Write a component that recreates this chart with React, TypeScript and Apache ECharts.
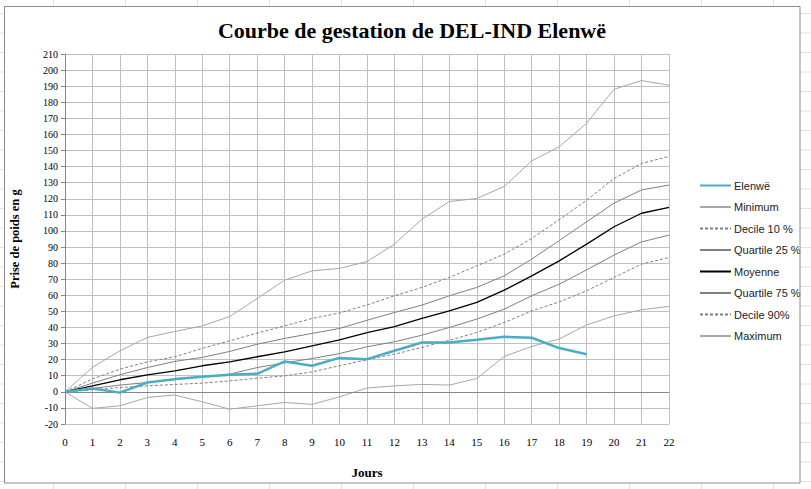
import React, { useEffect, useRef } from "react";
import * as echarts from "echarts";

const days = [0, 1, 2, 3, 4, 5, 6, 7, 8, 9, 10, 11, 12, 13, 14, 15, 16, 17, 18, 19, 20, 21, 22];
const elenwe = [0, 2, -0.5, 5.8, 7.9, 9.3, 10.6, 11.2, 18.9, 16.2, 21.1, 20.3, 25.5, 30.7, 30.7, 32.3, 34.2, 33.6, 27.2, 23.4];
const minimum = [0, -10.3, -8.7, -3.5, -2, -6.2, -10.8, -8.7, -6.6, -7.8, -3.1, 2.4, 3.7, 4.6, 4.2, 8.3, 22, 28.2, 32.8, 41.6, 47.2, 51, 53.1];
const decile10 = [0, 1.2, 2.7, 3.7, 4.6, 5.4, 6.8, 8.5, 9.9, 12.4, 16.2, 20, 23.4, 27.6, 32, 36.9, 43.1, 50.3, 55.9, 62.8, 71.1, 79.4, 83.5];
const quartile25 = [0, 2.1, 4.2, 5.8, 7.5, 9.3, 11, 15.1, 18, 20.7, 23.8, 28, 31.1, 35.2, 40, 45.2, 51.4, 59.7, 66.9, 75.8, 85, 93.2, 97.4];
const moyenne = [0, 3.7, 7.5, 10.6, 13, 16.2, 18.6, 21.8, 24.9, 28.6, 32.3, 36.8, 40.6, 45.6, 50.3, 55.6, 63.2, 72.1, 81.4, 91.8, 102.6, 111, 114.6];
const quartile75 = [0, 5.4, 10.6, 15.1, 18.9, 21.4, 25.1, 29.6, 33.2, 36.3, 39.4, 44.5, 49.3, 53.9, 59.7, 64.9, 72.1, 82.5, 94, 105.7, 117.3, 125.5, 128.5];
const decile90 = [0, 8, 14.1, 18.6, 21.8, 27, 31.7, 36.5, 41, 45.6, 49, 54, 59.7, 64.9, 71.1, 78.3, 85.6, 95.3, 107, 119.1, 132.6, 142, 146.3];
const maximum = [0, 15.2, 25.5, 33.8, 37.5, 41, 46.8, 58, 69.4, 75.2, 76.7, 81, 91.8, 107.3, 118.3, 120.2, 127.7, 143.6, 152.3, 167, 188.1, 193.5, 190.6];

const seriesNames = ["Elenwë", "Minimum", "Decile 10 %", "Quartile 25 %", "Moyenne", "Quartile 75 %", "Decile 90%", "Maximum"];

const pairs = (vals: number[]) => vals.map((v, i) => [days[i], v]);

const SERIF = "'Liberation Serif', 'DejaVu Serif', serif";
const SANS = "'Liberation Sans', 'Noto Sans', sans-serif";

export default function App() {
  const ref = useRef<HTMLDivElement>(null);
  useEffect(() => {
    if (!ref.current) return;
    const chart = echarts.init(ref.current, undefined, { renderer: "svg" });

    const mk = (name: string, vals: number[], color: string, width: number, type: any, z: number, extra: any = {}) => ({
      name,
      type: "line",
      data: pairs(vals),
      symbol: "none",
      showSymbol: false,
      z,
      lineStyle: { color, width, type },
      itemStyle: { color },
      ...extra,
    });

    const bg: any[] = [];
    for (let k = 0; k < 25; k++) {
      const y = 13.5 + k * 19.5;
      bg.push({ type: "line", shape: { x1: 0, y1: y, x2: 4, y2: y }, style: { stroke: "#E2E2E2", lineWidth: 1 }, silent: true });
      bg.push({ type: "line", shape: { x1: 800, y1: y, x2: 811, y2: y }, style: { stroke: "#E2E2E2", lineWidth: 1 }, silent: true });
    }
    for (let k = 0; k < 11; k++) {
      const x = 53.5 + k * 72;
      bg.push({ type: "line", shape: { x1: x, y1: 0, x2: x, y2: 6 }, style: { stroke: "#E2E2E2", lineWidth: 1 }, silent: true });
      bg.push({ type: "line", shape: { x1: x, y1: 483, x2: x, y2: 489 }, style: { stroke: "#E2E2E2", lineWidth: 1 }, silent: true });
    }
    bg.push({
      type: "rect",
      shape: { x: 4.5, y: 6.5, width: 795.5, height: 476.5 },
      style: { fill: "none", stroke: "#8C8C8C", lineWidth: 1 },
      silent: true,
      z: 10,
    });

    chart.setOption({
      animation: false,
      backgroundColor: "#ffffff",
      title: {
        text: "Courbe de gestation de DEL-IND Elenwë",
        left: 407,
        textAlign: "center",
        top: 14,
        textStyle: { fontFamily: SERIF, fontWeight: "bold", fontSize: 22, color: "#000" },
      },
      graphic: bg,
      grid: { left: 61, top: 54, right: 142, bottom: 65, containLabel: false },
      legend: {
        orient: "vertical",
        left: 694,
        top: 175,
        itemWidth: 31,
        itemHeight: 10,
        itemGap: 10.5,
        data: seriesNames,
        itemStyle: { opacity: 0, borderWidth: 0 },
        textStyle: { fontFamily: SANS, fontSize: 11, color: "#222", padding: [0, 0, 0, -2] },
      },
      xAxis: {
        type: "value",
        min: 0,
        max: 22,
        interval: 1,
        name: "Jours",
        nameLocation: "middle",
        nameGap: 42,
        nameTextStyle: { fontFamily: SERIF, fontWeight: "bold", fontSize: 13, color: "#000" },
        axisLine: { show: false, onZero: false },
        axisTick: { show: false },
        axisLabel: { fontFamily: SERIF, fontSize: 11, color: "#000", margin: 12 },
        splitLine: { show: true, lineStyle: { color: "#BFBFBF", width: 1 } },
      },
      yAxis: {
        type: "value",
        min: -20,
        max: 210,
        interval: 10,
        name: "Prise de poids en g",
        nameLocation: "middle",
        nameGap: 44,
        nameRotate: 90,
        nameTextStyle: { fontFamily: SERIF, fontWeight: "bold", fontSize: 12.5, color: "#000" },
        axisLine: { show: true, lineStyle: { color: "#868686", width: 1 } },
        axisTick: { show: true, length: 4, lineStyle: { color: "#868686" } },
        axisLabel: { fontFamily: SERIF, fontSize: 10, color: "#000", margin: 7 },
        splitLine: { show: true, lineStyle: { color: "#BFBFBF", width: 1 } },
      },
      series: [
        mk("Elenwë", elenwe, "#4BACC6", 2.5, "solid", 10),
        mk("Minimum", minimum, "#A6A6A6", 1, "solid", 3, {
          markLine: {
            silent: true,
            symbol: ["none", "none"],
            label: { show: false },
            lineStyle: { color: "#868686", width: 1, type: "solid" },
            data: [{ yAxis: 0 }],
          },
        }),
        mk("Decile 10 %", decile10, "#7F7F7F", 1, [3, 2], 4),
        mk("Quartile 25 %", quartile25, "#7F7F7F", 1, "solid", 4),
        mk("Moyenne", moyenne, "#000000", 1.3, "solid", 5),
        mk("Quartile 75 %", quartile75, "#7F7F7F", 1, "solid", 4),
        mk("Decile 90%", decile90, "#7F7F7F", 1, [3, 2], 4),
        mk("Maximum", maximum, "#A6A6A6", 1, "solid", 3),
      ],
    });
    return () => chart.dispose();
  }, []);
  return <div ref={ref} style={{ width: 811, height: 489, position: "absolute", left: 0, top: 0 }} />;
}
